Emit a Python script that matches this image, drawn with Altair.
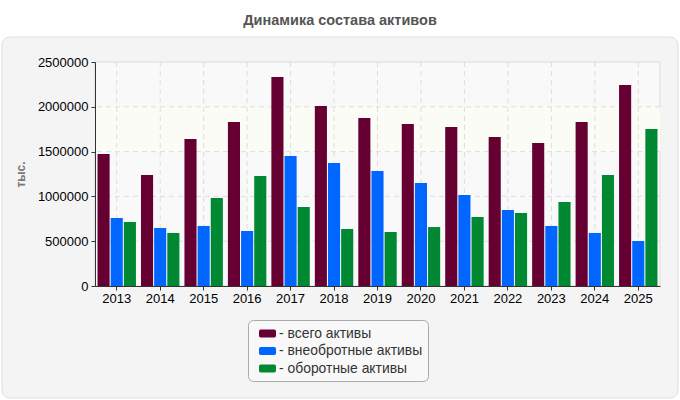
import altair as alt
import pandas as pd

years = ["2013", "2014", "2015", "2016", "2017", "2018", "2019", "2020", "2021", "2022", "2023", "2024", "2025"]
legend_labels = ["всего активы", "внеобротные активы", "оборотные активы"]
total = [1473000, 1239000, 1641000, 1830000, 2333000, 2009000, 1875000, 1808000, 1775000, 1663000, 1596000, 1830000, 2243000]
noncurrent = [759000, 647000, 670000, 614000, 1451000, 1373000, 1283000, 1149000, 1015000, 848000, 670000, 592000, 502000]
current = [714000, 592000, 982000, 1228000, 882000, 636000, 603000, 658000, 770000, 814000, 938000, 1239000, 1752000]
colors = ["#660033", "#0066ff", "#008833"]
y_ticks = [0, 500000, 1000000, 1500000, 2000000, 2500000]

rows = []
for i, y in enumerate(years):
    for s, vals in zip(legend_labels, [total, noncurrent, current]):
        rows.append({"year": y, "series": s, "value": vals[i]})
df = pd.DataFrame(rows)

W, H = 565, 224
FONT = "Liberation Sans"
YDOM = [0, 2500000]

xscale = alt.Scale(paddingInner=0.116, paddingOuter=0.058)
yscale = alt.Scale(domain=YDOM)
xaxis = alt.Axis(labelAngle=0, bandPosition=0.5, grid=False, zindex=1,
                 labelFont=FONT, labelFontSize=13, labelColor="#000000", tickColor="#333333",
                 tickSize=4, domainColor="#333333", labelPadding=2)
yaxis = alt.Axis(values=y_ticks, format="d", grid=False, zindex=1,
                 labelFont=FONT, labelFontSize=13, labelColor="#000000", tickColor="#333333",
                 tickSize=4, domainColor="#333333", labelPadding=3,
                 titleFont=FONT, titleFontSize=12, titleFontWeight="bold", titleColor="#777777",
                 titleX=-75, titleY=112, titleAngle=-90, titleAlign="center", titleBaseline="middle")

one = pd.DataFrame({"t": ["Динамика состава активов"]})

panel = alt.Chart(one).mark_rect(
    fill="#f4f4f4", stroke="#dddddd", strokeWidth=1, cornerRadius=8
).encode(
    x=alt.value(-93), x2=alt.value(583), y=alt.value(-25), y2=alt.value(336)
)

title = alt.Chart(one).mark_text(
    font=FONT, fontSize=14.5, fontWeight="bold", color="#555555", align="center", baseline="middle"
).encode(
    x=alt.value(245), y=alt.value(-41), text="t:N"
)

bands = pd.DataFrame({"y0": [0, 1500000], "y1": [2500000, 2000000],
                      "c": ["#f9f9f9", "#fcfcf6"], "s": ["#dddddd", "#fcfcf6"]})
band_layer = alt.Chart(bands).mark_rect(strokeWidth=1).encode(
    x=alt.value(0), x2=alt.value(W),
    y=alt.Y("y0:Q", scale=yscale, axis=yaxis, title="тыс."),
    y2="y1:Q",
    fill=alt.Fill("c:N", scale=None, legend=None),
    stroke=alt.Stroke("s:N", scale=None, legend=None),
)

grid_y = alt.Chart(pd.DataFrame({"v": y_ticks[1:-1]})).mark_rule(
    color="#dddddd", strokeDash=[5, 4], strokeWidth=1
).encode(
    y=alt.Y("v:Q", scale=yscale, axis=yaxis, title="тыс."),
)

grid_x = alt.Chart(pd.DataFrame({"year": years})).mark_rule(
    color="#dddddd", strokeDash=[5, 4], strokeWidth=1
).encode(
    x=alt.X("year:N", sort=years, scale=xscale, axis=xaxis, title=None),
    y=alt.value(0), y2=alt.value(H),
)

sym = "M-0.8,-0.47 L0.8,-0.47 Q1,-0.47 1,-0.27 L1,0.27 Q1,0.47 0.8,0.47 L-0.8,0.47 Q-1,0.47 -1,0.27 L-1,-0.27 Q-1,-0.47 -0.8,-0.47 Z"

bars = alt.Chart(df).mark_bar(cornerRadius=0).encode(
    x=alt.X("year:N", sort=years, title=None, scale=xscale, axis=xaxis),
    xOffset=alt.XOffset("series:N", sort=legend_labels, scale=alt.Scale(paddingInner=0.08, paddingOuter=0)),
    y=alt.Y("value:Q", scale=yscale, title="тыс.", axis=yaxis),
    color=alt.Color("series:N", sort=legend_labels, title=None,
                    scale=alt.Scale(domain=legend_labels, range=colors),
                    legend=alt.Legend(orient="none", legendX=153, legendY=258, fillColor="#f8f8f8",
                                      strokeColor="#aaaaaa", cornerRadius=5, padding=5, rowPadding=1.5,
                                      symbolOffset=6,
                                      symbolType=sym, symbolSize=289, symbolStrokeWidth=0,
                                      labelFont=FONT, labelFontSize=13.9, labelColor="#333333",
                                      labelOffset=3, labelExpr="'- ' + datum.label + '\u00a0'")),
)

chart = alt.layer(panel, title, band_layer, grid_y, grid_x, bars).properties(
    width=W, height=H,
    autosize=alt.AutoSizeParams(type="none"),
    padding={"left": 95, "top": 62, "right": 20, "bottom": 114},
    background="#ffffff",
).configure_view(stroke=None).resolve_scale(fill="independent", stroke="independent")

chart.save("out.html", embed_options={"renderer": "svg", "actions": False})
